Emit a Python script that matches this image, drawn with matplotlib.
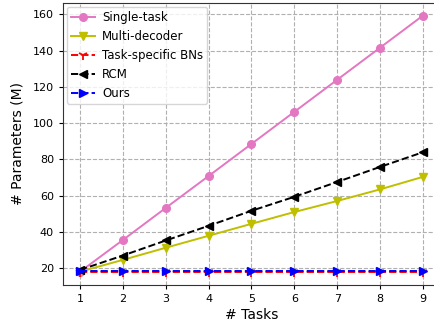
import matplotlib
matplotlib.use("Agg")
import matplotlib.pyplot as plt

tasks = [1, 2, 3, 4, 5, 6, 7, 8, 9]
single_task = [18.0, 35.5, 53.2, 70.8, 88.5, 106.2, 123.9, 141.6, 159.3]
multi_decoder = [18.0, 24.5, 31.2, 37.8, 44.4, 50.9, 57.0, 63.4, 70.3]
task_bns = [17.7, 17.7, 17.7, 17.7, 17.7, 17.7, 17.7, 17.7, 17.7]
rcm = [19.0, 26.9, 35.2, 43.3, 51.6, 59.3, 67.5, 75.8, 83.9]
ours = [18.2, 18.2, 18.2, 18.2, 18.2, 18.2, 18.2, 18.2, 18.2]

fig = plt.figure(figsize=(4.35, 3.27), dpi=100)
ax = fig.add_axes([0.1448, 0.1284, 0.8667, 0.863])

lw = 1.4
ax.plot(tasks, single_task, 'o-', color='#e377c2', label='Single-task', markersize=5.5, linewidth=lw)
ax.plot(tasks, multi_decoder, 'v-', color=(0.75, 0.75, 0), label='Multi-decoder', markersize=5.5, linewidth=lw)
ax.plot(tasks, task_bns, '1--', color='r', label='Task-specific BNs', markersize=7, markeredgewidth=1.3, linewidth=lw)
ax.plot(tasks, rcm, '<--', color='k', label='RCM', markersize=5.5, linewidth=lw)
ax.plot(tasks, ours, '>--', color='b', label='Ours', markersize=5.5, linewidth=lw)

ax.set_xticks(tasks)
ax.set_yticks([20, 40, 60, 80, 100, 120, 140, 160])
ax.tick_params(labelsize=8, length=3)
for s in ax.spines.values():
    s.set_color('#333333')
ax.grid(True, linestyle='--', color='#b0b0b0', linewidth=0.8)
ax.set_xlabel('# Tasks', fontsize=10, labelpad=3)
ax.set_ylabel('# Parameters (M)', fontsize=10, labelpad=6)
ax.legend(loc='upper left', fontsize=8.5, borderaxespad=0.35, borderpad=0.35,
          handletextpad=0.6)

fig.savefig('out.png', dpi=100)
